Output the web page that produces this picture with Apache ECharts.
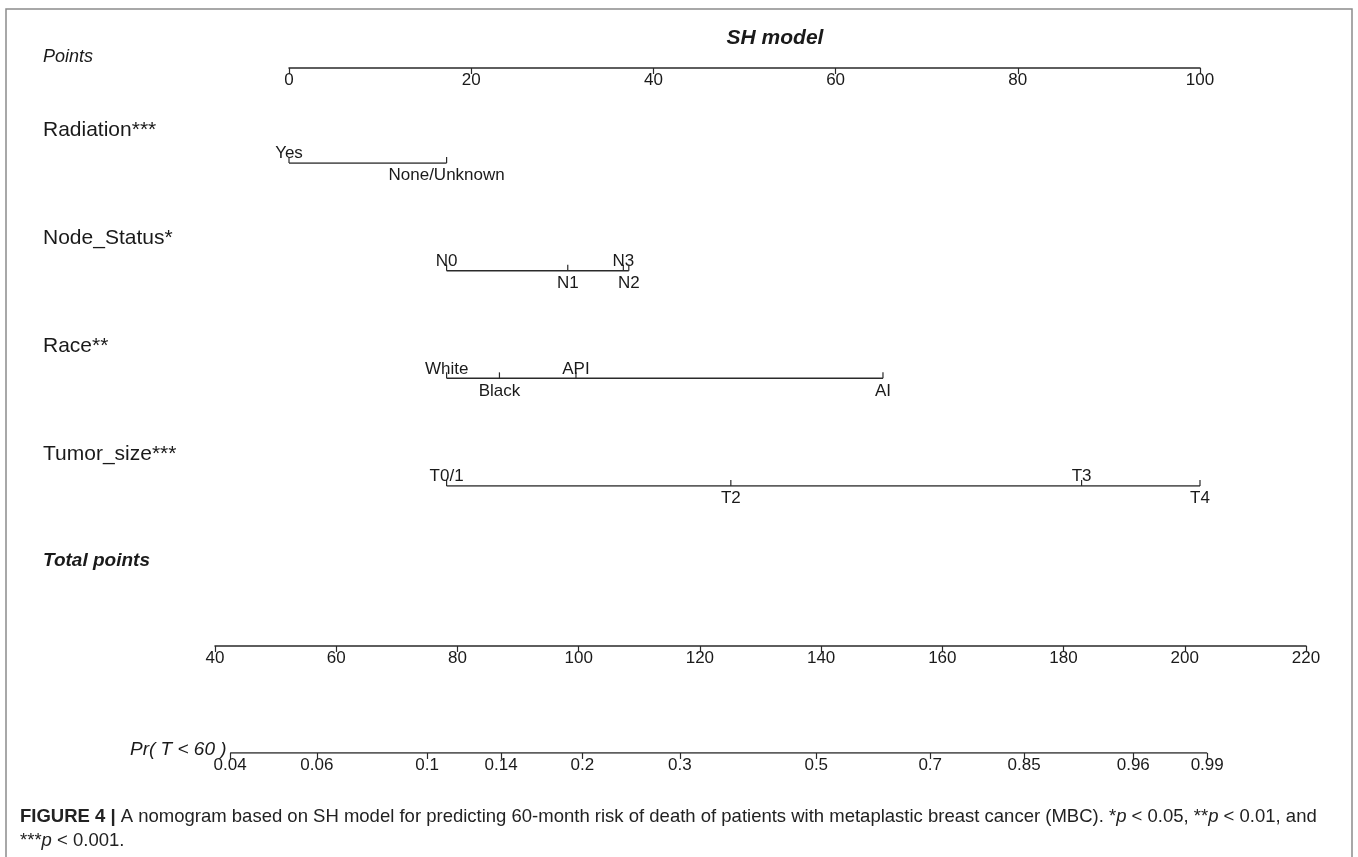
<!DOCTYPE html>
<html><head><meta charset="utf-8">
<script src="https://cdn.jsdelivr.net/npm/echarts@6/dist/echarts.min.js"></script>
<style>html,body{margin:0;padding:0;background:#fff}#c{width:1358px;height:857px}</style>
</head><body><div id="c"></div>
<script>
// ---- data ----
const pointTicks = [0, 20, 40, 60, 80, 100];
const variableNames = ['Radiation***', 'Node_Status*', 'Race**', 'Tumor_size***'];
const radiationLevels = ['Yes', 'None/Unknown'];
const radiationPoints = [0, 17.3];
const nodeLevels = ['N0', 'N1', 'N3', 'N2'];
const nodePoints = [17.3, 30.6, 36.7, 37.3];
const raceLevels = ['White', 'Black', 'API', 'AI'];
const racePoints = [17.3, 23.1, 31.5, 65.2];
const tumorLevels = ['T0/1', 'T2', 'T3', 'T4'];
const tumorPoints = [17.3, 48.5, 87.0, 100];
const totalTicks = [40, 60, 80, 100, 120, 140, 160, 180, 200, 220];
const probLabels = ['0.04', '0.06', '0.1', '0.14', '0.2', '0.3', '0.5', '0.7', '0.85', '0.96', '0.99'];
const probTotalPoints = [42.5, 56.8, 75.0, 87.2, 100.6, 116.7, 139.2, 158.0, 173.5, 191.5, 203.7];

const FONT = '"Liberation Sans", Arial, sans-serif';
const INK = '#1a1a1a';
const LINE = '#2a2a2a';

const rows = [
  [radiationLevels, radiationPoints],
  [nodeLevels, nodePoints],
  [raceLevels, racePoints],
  [tumorLevels, tumorPoints]
];

const chart = echarts.init(document.getElementById('c'), null, {renderer: 'canvas'});

function axisCommon(extra) {
  return Object.assign({
    type: 'value', position: 'bottom',
    splitLine: {show: false},
    axisLine: {show: true, lineStyle: {color: LINE, width: 1.5}},
    axisTick: {show: true, inside: false, length: 6, lineStyle: {color: LINE, width: 1.2}},
    axisLabel: {show: true, margin: 4, fontSize: 17, color: INK, fontFamily: FONT}
  }, extra);
}

const series = [];
rows.forEach(([levels, pts], r) => {
  series.push({
    type: 'line', xAxisIndex: 1, yAxisIndex: 1, symbol: 'none', silent: true, animation: false,
    lineStyle: {color: LINE, width: 1.5},
    data: [[Math.min(...pts), r], [Math.max(...pts), r]]
  });
  series.push({
    type: 'custom', xAxisIndex: 1, yAxisIndex: 1, silent: true, animation: false,
    data: pts.map((p, i) => [p, r, i % 2]),
    renderItem: function (params, api) {
      const c = api.coord([api.value(0), api.value(1)]);
      const below = api.value(2) === 1;
      return {
        type: 'group',
        children: [
          {type: 'line', shape: {x1: c[0], y1: c[1], x2: c[0], y2: c[1] - 6},
           style: {stroke: LINE, lineWidth: 1.2}},
          {type: 'text', x: c[0], y: below ? c[1] + 4 : c[1] - 1,
           style: {text: levels[params.dataIndex], fill: INK, font: '17px ' + FONT,
                   align: 'center', verticalAlign: below ? 'top' : 'bottom'}}
        ]
      };
    }
  });
});

// Pr axis line (spans only the probability range)
series.push({
  type: 'line', xAxisIndex: 3, yAxisIndex: 3, symbol: 'none', silent: true, animation: false,
  lineStyle: {color: LINE, width: 1.5},
  data: [[probTotalPoints[0], 0], [probTotalPoints[probTotalPoints.length - 1], 0]]
});

const titleStyle = (txt, x, y, font) => ({
  type: 'text', x: x, y: y,
  style: {text: txt, font: font, fill: INK, verticalAlign: 'middle', align: 'left'}
});

const CAP = 18.5;
const graphics = [
  {type: 'rect', shape: {x: 6, y: 9, width: 1346, height: 900},
   style: {fill: 'none', stroke: '#8c8c8c', lineWidth: 1.5}, silent: true},
  {type: 'text', x: 775, y: 38, style: {text: 'SH model', font: 'italic bold 21px ' + FONT, fill: INK, align: 'center', verticalAlign: 'middle'}},
  titleStyle('Points', 43, 57, 'italic 18px ' + FONT),
  titleStyle(variableNames[0], 43, 130, '21px ' + FONT),
  titleStyle(variableNames[1], 43, 238, '21px ' + FONT),
  titleStyle(variableNames[2], 43, 346, '21px ' + FONT),
  titleStyle(variableNames[3], 43, 454, '21px ' + FONT),
  titleStyle('Total points', 43, 561, 'italic bold 19px ' + FONT),
  titleStyle('Pr( T < 60 )', 130, 750, 'italic 19px ' + FONT),
  {type: 'text', x: 20, y: 817, style: {
    text: '{b|FIGURE 4 |} A nomogram based on SH model for predicting 60-month risk of death of patients with metaplastic breast cancer (MBC). *{i|p} < 0.05, **{i|p} < 0.01, and',
    font: CAP + 'px ' + FONT, fill: '#222', verticalAlign: 'middle',
    rich: {b: {fontWeight: 'bold', fontSize: CAP, fontFamily: FONT, fill: '#222'},
           i: {fontStyle: 'italic', fontSize: CAP, fontFamily: FONT, fill: '#222'}}
  }},
  {type: 'text', x: 20, y: 841, style: {
    text: '***{i|p} < 0.001.', font: CAP + 'px ' + FONT, fill: '#222', verticalAlign: 'middle',
    rich: {i: {fontStyle: 'italic', fontSize: CAP, fontFamily: FONT, fill: '#222'}}
  }}
];

chart.setOption({
  animation: false,
  backgroundColor: '#fff',
  grid: [
    {left: 289, width: 911, top: 60, height: 8},      // Points axis
    {left: 289, width: 911, top: 163, height: 323},   // variable rows
    {left: 215, width: 1091, top: 638, height: 8},    // Total points
    {left: 215, width: 1091, top: 745, height: 8}     // Pr axis
  ],
  xAxis: [
    axisCommon({gridIndex: 0, min: 0, max: 100, interval: 20}),
    {type: 'value', gridIndex: 1, min: 0, max: 100, show: false},
    axisCommon({gridIndex: 2, min: 40, max: 220, interval: 20}),
    axisCommon({gridIndex: 3, min: 40, max: 220,
      axisLine: {show: false},
      axisTick: {show: true, inside: false, length: 6, lineStyle: {color: LINE, width: 1.2}, customValues: probTotalPoints},
      axisLabel: {show: true, margin: 4, fontSize: 17, color: INK, fontFamily: FONT, customValues: probTotalPoints,
        formatter: v => { const i = probTotalPoints.indexOf(v); return i >= 0 ? probLabels[i] : ''; }}
    })
  ],
  yAxis: [
    {type: 'value', gridIndex: 0, show: false, min: 0, max: 1},
    {type: 'value', gridIndex: 1, show: false, min: 0, max: 3, inverse: true},
    {type: 'value', gridIndex: 2, show: false, min: 0, max: 1},
    {type: 'value', gridIndex: 3, show: false, min: 0, max: 1}
  ],
  series: series,
  graphic: graphics
});
</script></body></html>
